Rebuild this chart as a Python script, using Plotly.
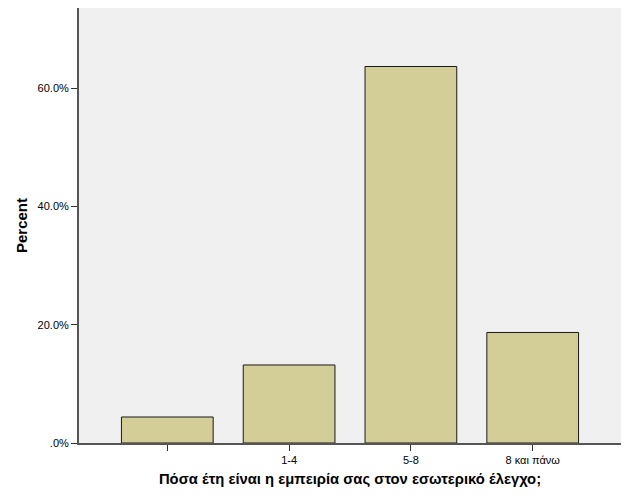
import plotly.graph_objects as go

categories = ["", "1-4", "5-8", "8 και πάνω"]
percents = [4.4, 13.2, 63.7, 18.7]
y_tick_values = [0, 20, 40, 60]
y_tick_labels = [".0%", "20.0%", "40.0%", "60.0%"]
x_title = "Πόσα έτη είναι η εμπειρία σας στον εσωτερικό έλεγχο;"
y_title = "Percent"

xpos = list(range(len(categories)))

fig = go.Figure(
    go.Bar(
        x=xpos,
        y=percents,
        width=0.753,
        marker=dict(color="#D3CE97", line=dict(color="#1a1a1a", width=1)),
        hoverinfo="skip",
    )
)

fig.update_layout(
    width=621,
    height=496,
    margin=dict(l=71, r=8, t=0, b=61, autoexpand=False),
    paper_bgcolor="white",
    plot_bgcolor="#F0F0F0",
    font=dict(family="Liberation Sans, Arial, sans-serif", size=11, color="black"),
    showlegend=False,
    xaxis=dict(
        range=[-0.725, 3.725],
        tickvals=xpos,
        ticktext=categories,
        ticks="outside",
        ticklen=6,
        tickcolor="#333333",
        showgrid=False,
        zeroline=False,
        showline=True,
        linecolor="#555555",
        linewidth=2,
        mirror=True,
        automargin=False,
        title=dict(text="<b>" + x_title + "</b>", font=dict(size=14.8), standoff=8),
    ),
    yaxis=dict(
        range=[0, 73.6],
        tickvals=y_tick_values,
        ticktext=y_tick_labels,
        ticks="outside",
        ticklen=6,
        tickcolor="#333333",
        showgrid=False,
        zeroline=False,
        showline=True,
        linecolor="#555555",
        linewidth=2,
        mirror=True,
        automargin=False,
        title=dict(text="<b>" + y_title + "</b>", font=dict(size=15), standoff=6),
    ),
)

fig.write_html("out.html")
